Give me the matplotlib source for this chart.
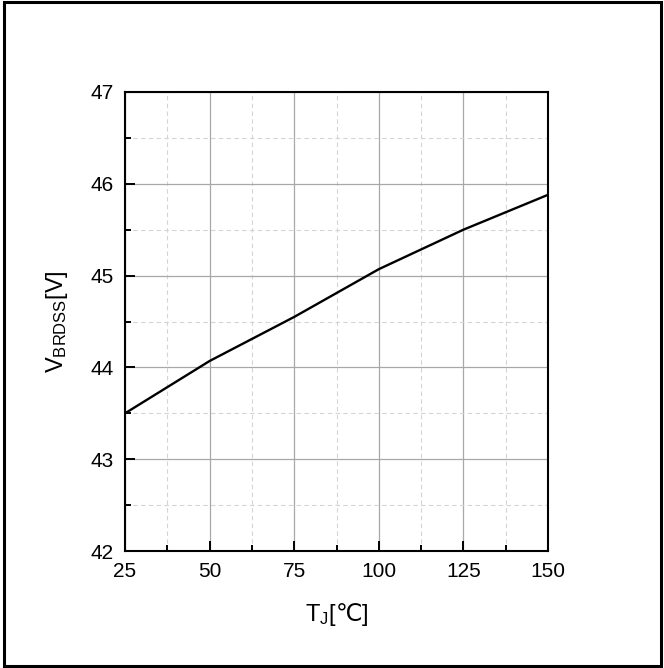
import numpy as np
import matplotlib.pyplot as plt
from matplotlib.patches import Rectangle
from matplotlib.ticker import MultipleLocator

plt.rcParams['font.family'] = ['Liberation Sans', 'DejaVu Sans']
plt.rcParams['mathtext.fontset'] = 'custom'
plt.rcParams['mathtext.rm'] = 'Liberation Sans'
plt.rcParams['mathtext.it'] = 'Liberation Sans'
plt.rcParams['mathtext.sf'] = 'Noto Sans CJK SC'

# data
tj = [25, 50, 75, 100, 125, 150]
vbrdss = [43.50, 44.07, 44.55, 45.07, 45.50, 45.88]

fig = plt.figure(figsize=(6.64, 6.68), dpi=100)
ax = fig.add_axes([0.1883, 0.1751, 0.6370, 0.6872])

ax.plot(tj, vbrdss, color='black', lw=1.7)

ax.set_xlim(25, 150)
ax.set_ylim(42, 47)
ax.xaxis.set_major_locator(MultipleLocator(25))
ax.xaxis.set_minor_locator(MultipleLocator(12.5))
ax.yaxis.set_major_locator(MultipleLocator(1))
ax.yaxis.set_minor_locator(MultipleLocator(0.5))

ax.grid(which='major', color='#a8a8a8', lw=0.9, ls='-')
ax.grid(which='minor', color='#d4d4d4', lw=0.8, ls=(0, (4, 3)))
ax.set_axisbelow(True)

ax.tick_params(which='both', direction='in', top=False, right=False,
               labelsize=15, width=1.4)
ax.tick_params(axis='x', pad=8)
ax.tick_params(axis='y', pad=8)
ax.tick_params(which='major', length=7.5)
ax.tick_params(which='minor', length=4.5)
for s in ax.spines.values():
    s.set_linewidth(1.5)

ax.set_xlabel('T$_\\mathrm{J}$[$\\mathsf{℃}$]', fontsize=17)
ax.set_ylabel('V$_\\mathrm{BRDSS}$[V]', fontsize=17)
ax.xaxis.set_label_coords(0.5, -0.108)
ax.yaxis.set_label_coords(-0.13, 0.5)

# outer frame around the whole figure
fig.patches.append(Rectangle((4 / 664, 2 / 668), 657 / 664, 664 / 668,
                             transform=fig.transFigure, fill=False,
                             edgecolor='black', lw=2.2))

fig.savefig('out.png', dpi=100)
